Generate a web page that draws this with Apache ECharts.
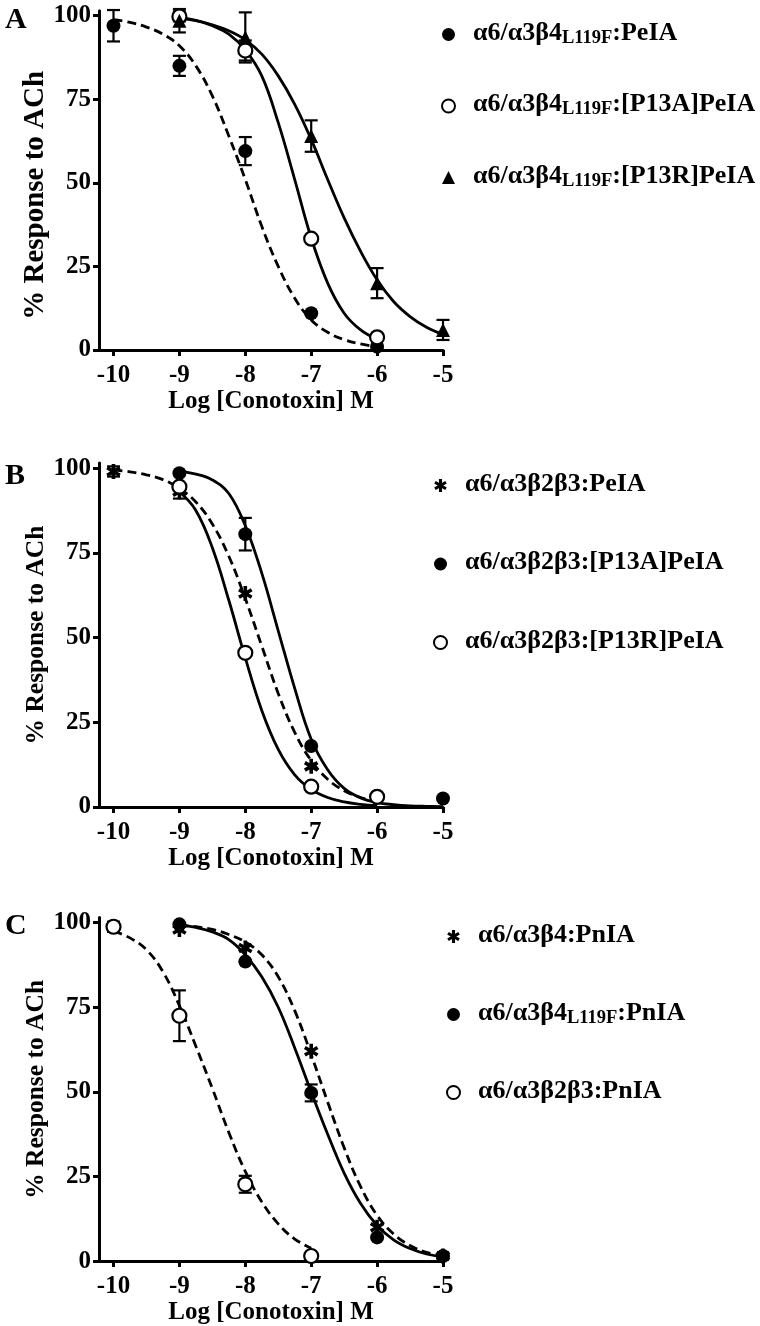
<!DOCTYPE html>
<html>
<head>
    <meta charset="utf-8">
    <title>Conotoxin concentration-response</title>
    <script src="https://cdn.jsdelivr.net/npm/echarts@6/dist/echarts.min.js"></script>
    <style>
        html, body { margin: 0; padding: 0; background: #fff; }
        #chart { width: 760px; height: 1326px; }
    </style>
</head>
<body>
    <div id="chart"></div>
    <script>
        // ---- data ----
        const xTicks = [-10, -9, -8, -7, -6, -5];
        const yTicks = [0, 25, 50, 75, 100];

        // panel A : a6/a3b4(L119F)
        const namesA = ['α6/α3β4L119F:PeIA', 'α6/α3β4L119F:[P13A]PeIA', 'α6/α3β4L119F:[P13R]PeIA'];
        const doseA1 = [-10, -9, -8, -7, -6];
        const respA1 = [97, 85, 59.5, 11, 1];
        const semA1 = [4.7, 3, 4.2, 0, 0];
        const doseA2 = [-9, -8, -7, -6];
        const respA2 = [99.8, 89.6, 33.3, 3.8];
        const semA2 = [1.5, 3, 0, 0];
        const doseA3 = [-9, -8, -7, -6, -5];
        const respA3 = [98.5, 93.5, 64, 20, 6];
        const semA3 = [3.5, 7.5, 4.7, 4.5, 3];
        const fitA1 = [[-10, 98.8], [-9.75, 98], [-9.5, 96.6], [-9.25, 94.5], [-9, 91], [-8.75, 85], [-8.5, 76], [-8.25, 64], [-8, 51], [-7.75, 37], [-7.5, 25], [-7.25, 15.5], [-7, 9], [-6.75, 5.3], [-6.5, 3.1], [-6.25, 1.8], [-6, 1.0]];
        const fitA2 = [[-9, 99.4], [-8.75, 98.6], [-8.5, 97], [-8.25, 94.5], [-8, 89.8], [-7.75, 82], [-7.5, 68], [-7.25, 51], [-7, 33.5], [-6.75, 20], [-6.5, 11], [-6.25, 6], [-6, 3.2]];
        const fitA3 = [[-9, 99.2], [-8.75, 98.5], [-8.5, 97.3], [-8.25, 95.5], [-8, 92.8], [-7.75, 88.5], [-7.5, 82], [-7.25, 73.5], [-7, 63], [-6.75, 51], [-6.5, 39.5], [-6.25, 29.5], [-6, 21], [-5.75, 14.5], [-5.5, 10], [-5.25, 6.8], [-5, 4.6]];

        // panel B : a6/a3b2b3
        const namesB = ['α6/α3β2β3:PeIA', 'α6/α3β2β3:[P13A]PeIA', 'α6/α3β2β3:[P13R]PeIA'];
        const doseB1 = [-10, -9, -8, -7, -6];
        const respB1 = [99, 93, 63, 12, 3];
        const semB1 = [1.5, 2, 0, 0, 0];
        const doseB2 = [-9, -8, -7, -6, -5];
        const respB2 = [98.5, 80.5, 18, 3, 2.5];
        const semB2 = [0, 4.8, 0, 0, 0];
        const doseB3 = [-9, -8, -7, -6];
        const respB3 = [94.5, 45.5, 6, 3];
        const semB3 = [0, 0, 0, 0];
        const fitB1 = [[-10, 99.4], [-9.75, 98.9], [-9.5, 98], [-9.25, 96.6], [-9, 94], [-8.75, 90], [-8.5, 83.5], [-8.25, 74], [-8, 61.5], [-7.75, 47.5], [-7.5, 33.5], [-7.25, 22], [-7, 13.7], [-6.75, 8.2], [-6.5, 4.8], [-6.25, 2.8], [-6, 1.6]];
        const fitB2 = [[-9, 99], [-8.75, 98.2], [-8.5, 96.5], [-8.25, 92.5], [-8, 83], [-7.75, 69], [-7.5, 52], [-7.25, 35], [-7, 20], [-6.75, 11], [-6.5, 5.5], [-6.25, 2.7], [-6, 1.3], [-5.75, 0.7], [-5.5, 0.35], [-5.25, 0.2], [-5, 0.1]];
        const fitB3 = [[-9, 93], [-8.75, 87.5], [-8.5, 76.5], [-8.25, 61], [-8, 44], [-7.75, 28.5], [-7.5, 17], [-7.25, 9.5], [-7, 5.2], [-6.75, 2.8], [-6.5, 1.5], [-6.25, 0.8], [-6, 0.4]];

        // panel C : PnIA
        const namesC = ['α6/α3β4:PnIA', 'α6/α3β4L119F:PnIA', 'α6/α3β2β3:PnIA'];
        const doseC1 = [-9, -8, -7, -6, -5];
        const respC1 = [98, 92.5, 62, 10, 1.5];
        const semC1 = [0, 0, 0, 0, 0];
        const doseC2 = [-9, -8, -7, -6, -5];
        const respC2 = [99.5, 88.5, 49.7, 7, 1.5];
        const semC2 = [0, 0, 2.5, 0, 0];
        const doseC3 = [-10, -9, -8, -7];
        const respC3 = [98.8, 72.5, 22.7, 1.5];
        const semC3 = [1.5, 7.5, 2.5, 0];
        const fitC1 = [[-9, 99.3], [-8.75, 98.8], [-8.5, 98], [-8.25, 96.5], [-8, 94.3], [-7.75, 90.5], [-7.5, 84], [-7.25, 74], [-7, 61], [-6.75, 47], [-6.5, 33.5], [-6.25, 22], [-6, 13.5], [-5.75, 8], [-5.5, 4.6], [-5.25, 2.6], [-5, 1.5]];
        const fitC2 = [[-9, 99.3], [-8.75, 98.6], [-8.5, 97.3], [-8.25, 95], [-8, 90.5], [-7.75, 84], [-7.5, 75], [-7.25, 63], [-7, 50], [-6.75, 37.5], [-6.5, 26], [-6.25, 17], [-6, 10.5], [-5.75, 6.3], [-5.5, 3.7], [-5.25, 2.1], [-5, 1.2]];
        const fitC3 = [[-10, 97.5], [-9.75, 95.5], [-9.5, 92], [-9.25, 85.5], [-9, 75.5], [-8.75, 63.5], [-8.5, 51], [-8.25, 38], [-8, 26.5], [-7.75, 17.5], [-7.5, 11], [-7.25, 6.5], [-7, 3.8]];

        // ---- styling ----
        const FONT = '"Liberation Serif", "Times New Roman", serif';
        // six-armed asterisk, three bars
        const ASTERISK = 'path://M38 0L62 0L62 100L38 100Z M86.3 14.6L98.3 35.4L13.7 85.4L1.7 64.6Z M98.3 64.6L86.3 85.4L1.7 35.4L13.7 14.6Z';

        const panels = [
            { letter: 'A', top: 10.7, height: 339.3, letterTop: 0, yNameSize: 29, yNamePad: [0, 30, 0, 0] },
            { letter: 'B', top: 463, height: 344, letterTop: 456, yNameSize: 25.5, yNamePad: 0 },
            { letter: 'C', top: 917.6, height: 344, letterTop: 906, yNameSize: 25.5, yNamePad: 0 }
        ];

        function zip(xs, ys, es) {
            return xs.map((x, i) => [x, ys[i], es ? es[i] : 0]);
        }

        function points(name, g, xs, ys, symbol, filled) {
            const size = symbol === ASTERISK ? 15 : 14;
            return {
                type: 'scatter', name: name, xAxisIndex: g, yAxisIndex: g,
                data: zip(xs, ys), symbol: symbol, symbolSize: size, symbolKeepAspect: true,
                itemStyle: filled ? { color: '#000', opacity: 1 } : { color: '#fff', borderColor: '#000', borderWidth: 2.2, opacity: 1 },
                z: 5, silent: true
            };
        }

        function errBars(g, xs, ys, es) {
            return {
                type: 'custom', xAxisIndex: g, yAxisIndex: g, z: 4, silent: true,
                data: zip(xs, ys, es),
                encode: { x: 0, y: 1 },
                renderItem: function (params, api) {
                    const x = api.value(0), y = api.value(1), e = api.value(2);
                    if (!e) return;
                    const hi = api.coord([x, y + e]);
                    const lo = api.coord([x, y - e]);
                    const w = 6.5;
                    const st = { stroke: '#000', lineWidth: 2.2 };
                    return {
                        type: 'group',
                        children: [
                            { type: 'line', shape: { x1: hi[0], y1: hi[1], x2: lo[0], y2: lo[1] }, style: st },
                            { type: 'line', shape: { x1: hi[0] - w, y1: hi[1], x2: hi[0] + w, y2: hi[1] }, style: st },
                            { type: 'line', shape: { x1: lo[0] - w, y1: lo[1], x2: lo[0] + w, y2: lo[1] }, style: st }
                        ]
                    };
                }
            };
        }

        function fit(g, data, dashed) {
            return {
                type: 'line', name: 'fit', xAxisIndex: g, yAxisIndex: g, data: data,
                showSymbol: false, symbol: 'none', smooth: 0.4, silent: true, z: 2,
                lineStyle: { color: '#000', width: 2.8, type: dashed ? [9, 5] : 'solid' }
            };
        }

        function legendFmt(name) {
            const parts = name.split('L119F');
            if (parts.length === 1) return '{t|' + name + '}';
            return '{t|' + parts[0] + '}{s|L119F}{t|' + parts[1] + '}';
        }

        function legendBox(names, left, top, gap) {
            return {
                data: names, orient: 'vertical', left: left, top: top, padding: 0,
                itemWidth: 13, itemHeight: 13, itemGap: gap, selectedMode: false,
                formatter: legendFmt,
                textStyle: {
                    padding: [0, 0, 0, 13],
                    rich: {
                        t: { fontFamily: FONT, fontWeight: 'bold', fontSize: 26, color: '#000', lineHeight: 26, padding: [0, 0, 3, 0] },
                        s: { fontFamily: FONT, fontWeight: 'bold', fontSize: 18.5, color: '#000', lineHeight: 18, verticalAlign: 'bottom' }
                    }
                }
            };
        }

        const grid = [], xAxis = [], yAxis = [], title = [];
        panels.forEach((p, i) => {
            grid.push({ left: 99, width: 344, top: p.top, height: p.height });
            title.push({ text: p.letter, left: 0, top: p.letterTop, textStyle: { fontFamily: FONT, fontWeight: 'bold', fontSize: 30, color: '#000' } });
            xAxis.push({
                type: 'value', gridIndex: i, min: -10.22, max: -5,
                name: 'Log [Conotoxin] M', nameLocation: 'middle', nameGap: 36,
                nameTextStyle: { fontFamily: FONT, fontWeight: 'bold', fontSize: 25, color: '#000' },
                axisLine: { onZero: false, lineStyle: { color: '#000', width: 3 } },
                axisTick: { customValues: xTicks, length: 6, lineStyle: { color: '#000', width: 3 } },
                axisLabel: { customValues: xTicks, margin: 13, fontFamily: FONT, fontWeight: 'bold', fontSize: 25, color: '#000' },
                splitLine: { show: false }
            });
            yAxis.push({
                type: 'value', gridIndex: i, min: 0, max: 101.5,
                name: '% Response to ACh', nameLocation: 'middle', nameGap: 47, nameRotate: 90,
                nameTextStyle: { fontFamily: FONT, fontWeight: 'bold', fontSize: p.yNameSize, color: '#000', padding: p.yNamePad },
                axisLine: { show: true, lineStyle: { color: '#000', width: 3 } },
                axisTick: { show: true, customValues: yTicks, length: 6, lineStyle: { color: '#000', width: 3 } },
                axisLabel: { customValues: yTicks, margin: 8, fontFamily: FONT, fontWeight: 'bold', fontSize: 25, color: '#000' },
                splitLine: { show: false }
            });
        });

        const series = [
            // A
            fit(0, fitA1, true), fit(0, fitA2, false), fit(0, fitA3, false),
            errBars(0, doseA1, respA1, semA1), errBars(0, doseA2, respA2, semA2), errBars(0, doseA3, respA3, semA3),
            points(namesA[0], 0, doseA1, respA1, 'circle', true),
            points(namesA[1], 0, doseA2, respA2, 'circle', false),
            points(namesA[2], 0, doseA3, respA3, 'triangle', true),
            // B
            fit(1, fitB1, true), fit(1, fitB2, false), fit(1, fitB3, false),
            errBars(1, doseB1, respB1, semB1), errBars(1, doseB2, respB2, semB2), errBars(1, doseB3, respB3, semB3),
            points(namesB[0], 1, doseB1, respB1, ASTERISK, true),
            points(namesB[1], 1, doseB2, respB2, 'circle', true),
            points(namesB[2], 1, doseB3, respB3, 'circle', false),
            // C
            fit(2, fitC1, true), fit(2, fitC2, false), fit(2, fitC3, true),
            errBars(2, doseC1, respC1, semC1), errBars(2, doseC2, respC2, semC2), errBars(2, doseC3, respC3, semC3),
            points(namesC[0], 2, doseC1, respC1, ASTERISK, true),
            points(namesC[1], 2, doseC2, respC2, 'circle', true),
            points(namesC[2], 2, doseC3, respC3, 'circle', false)
        ];

        const chart = echarts.init(document.getElementById('chart'));
        chart.setOption({
            animation: false,
            backgroundColor: '#fff',
            title: title,
            legend: [
                legendBox(namesA, 441, 20, 42.5),
                legendBox(namesB, 433, 471, 49.5),
                legendBox(namesC, 446, 922, 49)
            ],
            grid: grid,
            xAxis: xAxis,
            yAxis: yAxis,
            series: series
        });
    </script>
</body>
</html>
